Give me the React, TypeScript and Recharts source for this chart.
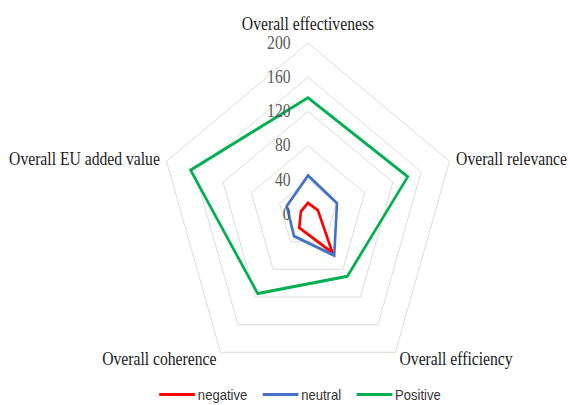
import { RadarChart, Radar, PolarGrid, PolarAngleAxis, PolarRadiusAxis, Legend } from 'recharts'

const criteria = [
  'Overall effectiveness',
  'Overall relevance',
  'Overall efficiency',
  'Overall coherence',
  'Overall EU added value',
]
const negative = [13, 14, 56, 20, 10]
const neutral = [45, 41, 60, 32, 30]
const positive = [136, 141, 90, 115, 166]
const radiusTicks = [0, 40, 80, 120, 160, 200]

const series = [
  { key: 'negative', label: 'negative', color: '#ff0000' },
  { key: 'neutral', label: 'neutral', color: '#4472c4' },
  { key: 'positive', label: 'Positive', color: '#00b050' },
]

const data = criteria.map((name, i) => ({
  name,
  negative: negative[i],
  neutral: neutral[i],
  positive: positive[i],
}))

// the reference picture is squeezed horizontally, so the whole chart is too
const SQUEEZE = 0.87
const W = 655
const H = 405

const AngleTick = (props: any) => {
  const { x, y, payload, textAnchor } = props
  const top = payload.index === 0
  return (
    <text
      x={x}
      y={top ? y - 11 : y}
      textAnchor={textAnchor}
      dominantBaseline="central"
      fontFamily="'Liberation Serif', 'Times New Roman', serif"
      fontSize={18}
      fill="#1a1a1a"
    >
      {payload.value}
    </text>
  )
}

const RadiusTick = (props: any) => {
  const { x, y, payload } = props
  return (
    <text
      x={x - 20}
      y={y}
      textAnchor="end"
      dominantBaseline="central"
      fontFamily="'Liberation Serif', 'Times New Roman', serif"
      fontSize={18}
      fill="#595959"
    >
      {payload.value}
    </text>
  )
}

const LegendRow = () => (
  <div
    style={{
      display: 'flex',
      justifyContent: 'center',
      alignItems: 'center',
      gap: 18,
      fontFamily: "'Liberation Sans', Arial, sans-serif",
      fontSize: 15,
      color: '#333',
    }}
  >
    {series.map((s) => (
      <span key={s.key} style={{ display: 'flex', alignItems: 'center', gap: 3 }}>
        <span style={{ display: 'inline-block', width: 41, height: 3, background: s.color }} />
        {s.label}
      </span>
    ))}
  </div>
)

export default function App() {
  return (
    <div style={{ position: 'absolute', left: 0, top: 0, width: 570, height: 405, overflow: 'hidden', background: '#fff' }}>
      <div style={{ width: W, height: H, transform: `scaleX(${SQUEEZE})`, transformOrigin: '0 0' }}>
        <RadarChart width={W} height={H} data={data} cx={354} cy={214} outerRadius={171}>
          <PolarGrid gridType="polygon" radialLines={false} stroke="#d9d9d9" />
          <PolarAngleAxis dataKey="name" tick={<AngleTick />} tickLine={false} axisLine={false} />
          <PolarRadiusAxis
            angle={90}
            domain={[0, 200]}
            ticks={radiusTicks}
            tick={<RadiusTick />}
            axisLine={false}
            tickLine={false}
          />
          {series.map((s) => (
            <Radar
              key={s.key}
              name={s.label}
              dataKey={s.key}
              stroke={s.color}
              strokeWidth={3}
              fill="none"
              fillOpacity={0}
              dot={false}
              isAnimationActive={false}
            />
          ))}
          <Legend content={() => <LegendRow />} wrapperStyle={{ left: 0, top: 386, width: 690 }} />
        </RadarChart>
      </div>
    </div>
  )
}
